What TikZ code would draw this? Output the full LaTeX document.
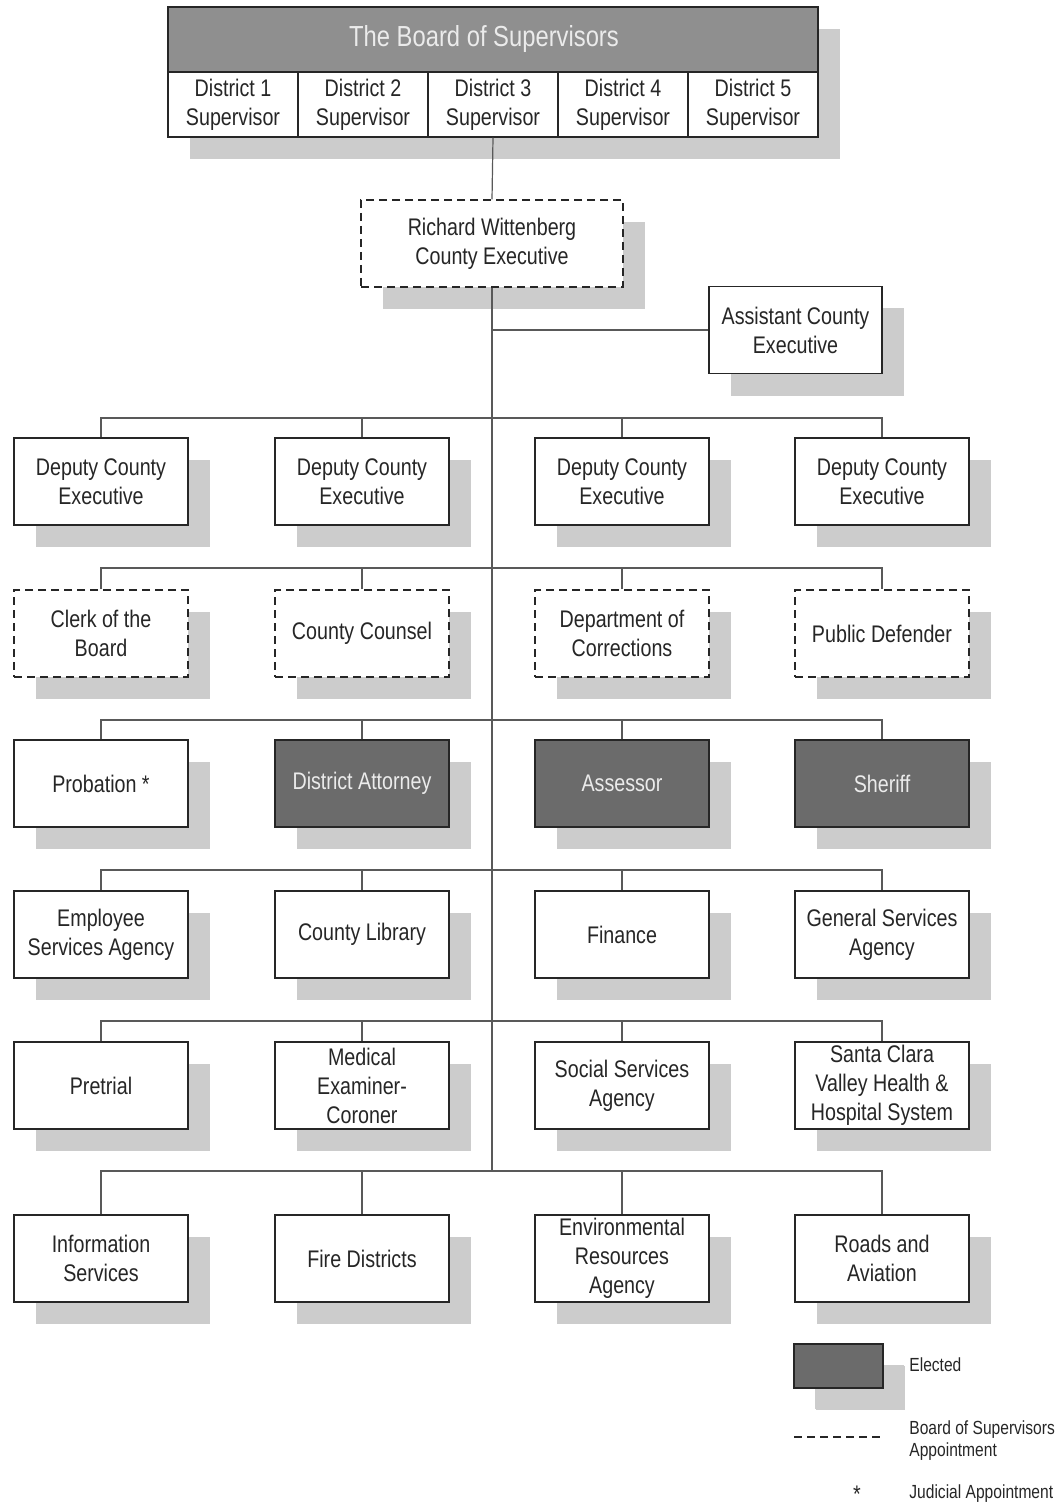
\documentclass[tikz,border=0pt]{standalone}
\usepackage{fontspec}
\setmainfont[FakeStretch=0.82]{Liberation Sans}
\usetikzlibrary{shadows}
\definecolor{shad}{gray}{0.80}
\definecolor{elect}{gray}{0.42}
\definecolor{hdr}{gray}{0.56}
\definecolor{ink}{gray}{0.15}
\definecolor{conncol}{gray}{0.35}
\begin{document}
\begin{tikzpicture}[x=0.5pt,y=-0.5pt,
 shd/.style={drop shadow={shadow xshift=11pt,shadow yshift=-11pt,fill=shad,opacity=1}},
 bx/.style={shd,draw=ink,fill=white,line width=0.7pt,minimum width=87pt,minimum height=43.5pt,align=center,text=ink,font=\fontsize{12}{14.5}\selectfont,inner sep=1pt},
 dbx/.style={bx,dash pattern=on 4pt off 2.5pt},
 ebx/.style={bx,fill=elect,text=white!92!black},
 cell/.style={draw=ink,fill=white,line width=0.7pt,minimum width=65pt,minimum height=32.5pt,align=center,text=ink,font=\fontsize{12}{14.5}\selectfont,inner sep=1pt},
 conn/.style={draw=conncol,line width=0.6pt},
 legtext/.style={anchor=west,align=left,text=ink,font=\fontsize{9.5}{11}\selectfont,inner sep=0pt}]
\useasboundingbox (0,0) rectangle (1062,1508);
% board
\fill[shad] (190,29) rectangle (840,159);
\node[draw=ink,fill=hdr,line width=0.7pt,minimum width=325pt,minimum height=32.5pt] (board) at (493,39.5) {};
\node[text=white!92!black,font=\fontsize{14.5}{16}\selectfont,inner sep=0pt] (title) at (484,39.5) {The Board of Supervisors};
\node[cell] (d1) at (233,104.5) {District 1\\Supervisor};
\node[cell] (d2) at (363,104.5) {District 2\\Supervisor};
\node[cell] (d3) at (493,104.5) {District 3\\Supervisor};
\node[cell] (d4) at (623,104.5) {District 4\\Supervisor};
\node[cell] (d5) at (753,104.5) {District 5\\Supervisor};
% executive
\node[dbx,minimum width=131pt] (exec) at (492,243.5) {Richard Wittenberg\\County Executive};
\node[bx,minimum width=86.5pt] (asst) at (795.5,330) {Assistant County\\Executive};
% row 1
\node[bx] (a1) at (101,481.5) {Deputy County\\Executive};
\node[bx] (a2) at (362,481.5) {Deputy County\\Executive};
\node[bx] (a3) at (622,481.5) {Deputy County\\Executive};
\node[bx] (a4) at (882,481.5) {Deputy County\\Executive};
% row 2
\node[dbx] (b1) at (101,633.5) {Clerk of the\\Board};
\node[dbx] (b2) at (362,633.5) {County Counsel};
\node[dbx] (b3) at (622,633.5) {Department of\\Corrections};
\node[dbx] (b4) at (882,633.5) {Public Defender};
% row 3
\node[bx] (c1) at (101,783.5) {Probation *};
\node[ebx] (c2) at (362,783.5) {District Attorney};
\node[ebx] (c3) at (622,783.5) {Assessor};
\node[ebx] (c4) at (882,783.5) {Sheriff};
% row 4
\node[bx] (e1) at (101,934.5) {Employee\\Services Agency};
\node[bx] (e2) at (362,934.5) {County Library};
\node[bx] (e3) at (622,934.5) {Finance};
\node[bx] (e4) at (882,934.5) {General Services\\Agency};
% row 5
\node[bx] (f1) at (101,1085.5) {Pretrial};
\node[bx] (f2) at (362,1085.5) {Medical\\Examiner-\\Coroner};
\node[bx] (f3) at (622,1085.5) {Social Services\\Agency};
\node[bx] (f4) at (882,1085.5) {Santa Clara\\Valley Health \&\\Hospital System};
% row 6
\node[bx] (g1) at (101,1258.5) {Information\\Services};
\node[bx] (g2) at (362,1258.5) {Fire Districts};
\node[bx] (g3) at (622,1258.5) {Environmental\\Resources\\Agency};
\node[bx] (g4) at (882,1258.5) {Roads and\\Aviation};
% bar coordinates
\coordinate (ba) at (492,418);
\coordinate (bb) at (492,568);
\coordinate (bc) at (492,720);
\coordinate (be) at (492,870);
\coordinate (bf) at (492,1021);
\coordinate (bg) at (492,1171);
% connectors
\draw[conn] (d3.south) -- (exec.north);
\draw[conn] (exec.south) -- (bg);
\draw[conn] (exec.south |- asst.west) -- (asst.west);
\foreach \r/\b in {a/ba,b/bb,c/bc,e/be,f/bf,g/bg}{
  \draw[conn] (\r1.north) |- (\b) -| (\r4.north);
  \draw[conn] (\r2.north) -- (\r2.north |- \b);
  \draw[conn] (\r3.north) -- (\r3.north |- \b);
}
% legend
\node[ebx,minimum width=44.5pt,minimum height=22pt,drop shadow={shadow xshift=10.5pt,shadow yshift=-10.5pt,fill=shad,opacity=1}] (leg) at (838.5,1366) {};
\node[legtext] (legE) at (909,1365) {Elected};
\coordinate (l1) at (794,1437);
\coordinate (l2) at (883,1437);
\draw[draw=ink,line width=0.7pt,dash pattern=on 4pt off 2.5pt] (l1) -- (l2);
\node[legtext] (legB) at (909,1441) {Board of Supervisors\\Appointment};
\node[anchor=north,text=ink,font=\fontsize{12}{14}\selectfont,inner sep=0pt] (legS) at (857,1486) {*};
\node[legtext] (legJ) at (909,1494) {Judicial Appointment};
\end{tikzpicture}
\end{document}
